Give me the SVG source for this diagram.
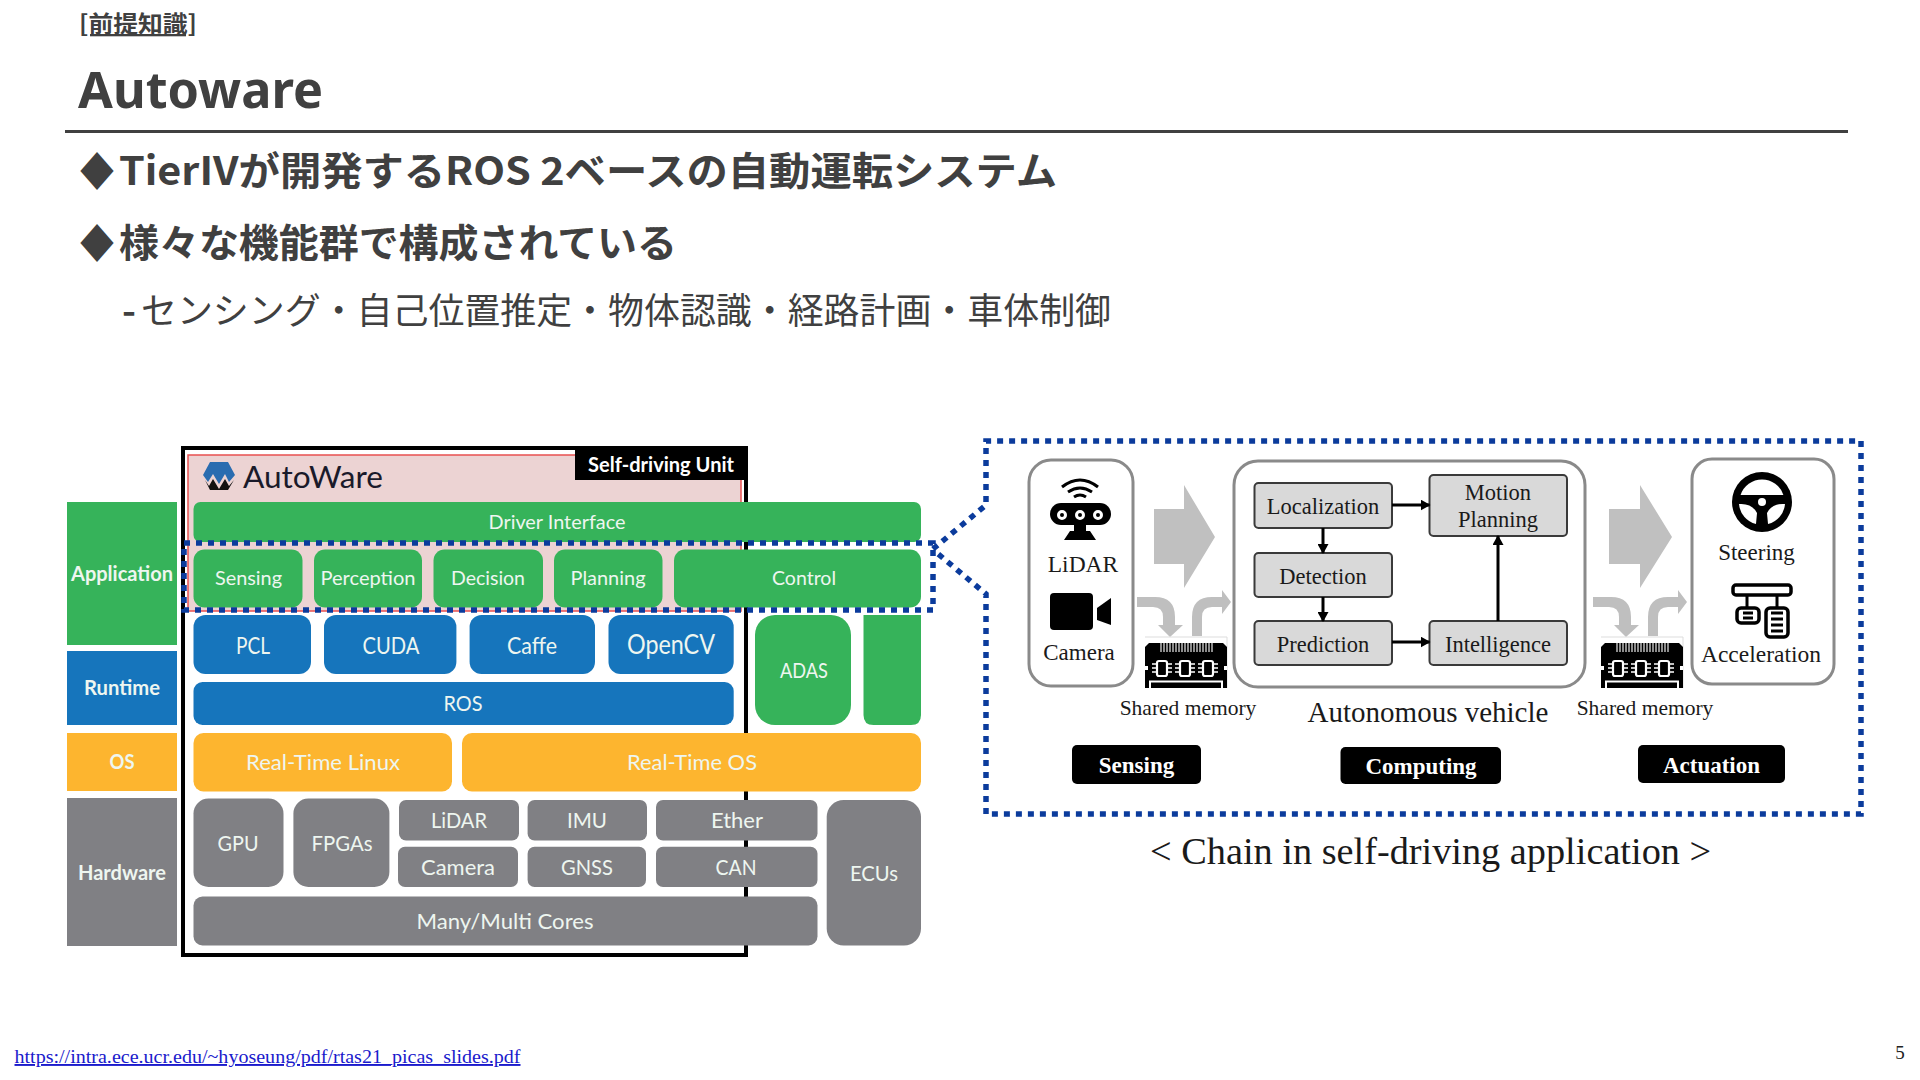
<svg xmlns="http://www.w3.org/2000/svg" width="1920" height="1080" viewBox="0 0 1920 1080">
<style>
.head{font-family:"Noto Sans","Noto Sans CJK JP",sans-serif;fill:#404040}
.jp{font-family:"Noto Sans CJK JP","Noto Sans",sans-serif;fill:#404040}
.b{font-weight:700}
.gr{fill:#36b35a}.bl{fill:#1675bc}.or{fill:#fdb52f}.gy{fill:#808084}
.t{font-family:Lato,"Noto Sans",sans-serif;fill:#eef6f0;text-anchor:middle}
.t:not([font-size]){font-size:22px}
.s{font-family:"Liberation Serif",serif;fill:#1a1a1a;text-anchor:middle}
.s:not([font-size]){font-size:22.5px}
.w{font-family:"Liberation Serif",serif;font-size:23px;font-weight:700;fill:#fff;text-anchor:middle}
.box{fill:#fff;stroke:#8a8a8a;stroke-width:3}
.fn{fill:#d9d9d9;stroke:#3a3a3a;stroke-width:2}
.dot{fill:none;stroke:#0b3b9c;stroke-width:5.5;stroke-dasharray:6 6}
.ar{fill:none;stroke:#000;stroke-width:3;marker-end:url(#ah)}
.big{fill:#c0c0c0}
</style>
<defs>
<marker id="ah" markerUnits="userSpaceOnUse" markerWidth="10" markerHeight="11" refX="9" refY="5.500" orient="auto"><path d="M0 0L10 5.500L0 11z" fill="#000"/></marker>
<g id="chip">
<path d="M0 -6H82M82 -6V45" stroke="#ddd" stroke-width="1" fill="none"/>
<path d="M4 0H78L82 4V45H0V4z" fill="#000"/>
<path d="M16 0V9M19 0V9M22 0V9M25 0V9M28 0V9M31 0V9M34 0V9M37 0V9M40 0V9M43 0V9M46 0V9M49 0V9M52 0V9M55 0V9M58 0V9M61 0V9M64 0V9M67 0V9" stroke="#fff" stroke-width="1.1"/>
<g fill="#000" stroke="#fff" stroke-width="2.2"><rect x="12" y="18" width="10" height="15" rx="2"/><rect x="35" y="18" width="10" height="15" rx="2"/><rect x="58" y="18" width="10" height="15" rx="2"/></g>
<path d="M7 21H12M7 25H12M7 29H12M22 21H27M22 25H27M22 29H27M30 21H35M30 25H35M30 29H35M45 21H50M45 25H50M45 29H50M53 21H58M53 25H58M53 29H58M68 21H73M68 25H73M68 29H73" stroke="#fff" stroke-width="1.4"/>
<path d="M0 25H3M79 25H82" stroke="#fff" stroke-width="4"/>
<path d="M5 45V38.5H77V45" stroke="#fff" stroke-width="2" fill="none"/>
</g>
<path id="cdown" d="M0 0H18Q38 0 38 20V28H46L33 40L21 28H26V20Q26 10 16 10H0z" fill="#bfbfbf"/>
<path id="cup" d="M0 39V20Q0 0 20 0H30V-7L39 5L30 17V10H20Q10 10 10 20V39z" fill="#bfbfbf"/>
</defs>
<rect width="1920" height="1080" fill="#fff"/>

<g id="header">
<text class="jp b" x="79" y="32" font-size="23" text-decoration="underline" textLength="118" lengthAdjust="spacingAndGlyphs">[前提知識]</text>
<text class="head b" x="78" y="108" font-size="50" textLength="245" lengthAdjust="spacingAndGlyphs">Autoware</text>
<rect x="65" y="130" width="1783" height="3" fill="#404040"/>
<text class="jp b" x="80" y="185" font-size="39" textLength="34" lengthAdjust="spacingAndGlyphs">◆</text>
<text class="jp b" x="119" y="185" font-size="39" textLength="938" lengthAdjust="spacingAndGlyphs">TierIVが開発するROS 2ベースの自動運転システム</text>
<text class="jp b" x="80" y="257" font-size="39" textLength="34" lengthAdjust="spacingAndGlyphs">◆</text>
<text class="jp b" x="119" y="257" font-size="39" textLength="558" lengthAdjust="spacingAndGlyphs">様々な機能群で構成されている</text>
<text class="jp b" x="122" y="324" font-size="36" textLength="14" lengthAdjust="spacingAndGlyphs">-</text>
<text class="jp" x="141" y="324" font-size="36" textLength="970" lengthAdjust="spacingAndGlyphs">センシング・自己位置推定・物体認識・経路計画・車体制御</text>
</g>

<g id="stack-frame">
<rect x="183" y="448" width="563" height="507" fill="#fff" stroke="#000" stroke-width="4"/>
<rect x="188" y="455" width="553" height="156" fill="#ecd3d3" stroke="#e85050" stroke-width="1.5"/>
<rect x="575" y="450" width="172" height="30" fill="#000"/>
<text class="t b" x="661" y="472" font-size="20" textLength="146" lengthAdjust="spacingAndGlyphs" style="fill:#fff">Self-driving Unit</text>
</g>
<g id="autoware-logo">
<path d="M210 462H228L235 475L229 482L225 474L219 484L213 474L208 482L203 475z" fill="#2a6cb0"/>
<path d="M205 480L210 490H228L234 480L229 486L225 479L219 489L213 479L209 486z" fill="#111"/>
<text x="243" y="488" font-family="Lato,sans-serif" font-size="30" fill="#1a1a2a" textLength="140" lengthAdjust="spacingAndGlyphs">AutoWare</text>
</g>

<g id="layer-application"><rect class="gr" x="67" y="502" width="110" height="143"/><text class="t b" x="122" y="581" font-size="21" textLength="102" lengthAdjust="spacingAndGlyphs">Application</text></g>
<g id="layer-runtime"><rect class="bl" x="67" y="651" width="110" height="74"/><text class="t b" x="122" y="695" font-size="21" textLength="76" lengthAdjust="spacingAndGlyphs">Runtime</text></g>
<g id="layer-os"><rect class="or" x="67" y="733" width="110" height="58"/><text class="t b" x="122" y="769" font-size="21" textLength="25" lengthAdjust="spacingAndGlyphs">OS</text></g>
<g id="layer-hardware"><rect class="gy" x="67" y="798" width="110" height="148"/><text class="t b" x="122" y="880" font-size="21" textLength="88" lengthAdjust="spacingAndGlyphs">Hardware</text></g>

<g id="driver-interface"><rect class="gr" x="193.5" y="502" width="727.5" height="40" rx="7"/><text class="t" x="557" y="529" font-size="20" textLength="137" lengthAdjust="spacingAndGlyphs">Driver Interface</text></g>
<g id="sensing"><rect class="gr" x="193.5" y="549.5" width="109" height="58" rx="11"/><text class="t" x="248.500" y="585" font-size="20" textLength="67" lengthAdjust="spacingAndGlyphs">Sensing</text></g>
<g id="perception"><rect class="gr" x="314" y="549.5" width="108" height="58" rx="11"/><text class="t" x="368" y="585" font-size="20" textLength="95" lengthAdjust="spacingAndGlyphs">Perception</text></g>
<g id="decision"><rect class="gr" x="433.500" y="549.5" width="109.500" height="58" rx="11"/><text class="t" x="488" y="585" font-size="20" textLength="74" lengthAdjust="spacingAndGlyphs">Decision</text></g>
<g id="planning"><rect class="gr" x="554" y="549.5" width="108.500" height="58" rx="11"/><text class="t" x="608" y="585" font-size="20" textLength="75" lengthAdjust="spacingAndGlyphs">Planning</text></g>
<g id="control"><rect class="gr" x="674" y="549.5" width="247" height="58" rx="11"/><text class="t" x="804" y="585" font-size="20" textLength="64" lengthAdjust="spacingAndGlyphs">Control</text></g>

<g id="pcl"><rect class="bl" x="193.5" y="615" width="117.500" height="59" rx="12"/><text class="t" x="253" y="654" font-size="23" textLength="34" lengthAdjust="spacingAndGlyphs">PCL</text></g>
<g id="cuda"><rect class="bl" x="324" y="615" width="132.400" height="59" rx="12"/><text class="t" x="391" y="654" font-size="23" textLength="57" lengthAdjust="spacingAndGlyphs">CUDA</text></g>
<g id="caffe"><rect class="bl" x="469.600" y="615" width="125.400" height="59" rx="12"/><text class="t" x="532" y="654" font-size="23" textLength="50" lengthAdjust="spacingAndGlyphs">Caffe</text></g>
<g id="opencv"><rect class="bl" x="608.500" y="615" width="125.200" height="59" rx="12"/><text class="t" x="671" y="654" font-size="26" textLength="88" lengthAdjust="spacingAndGlyphs">OpenCV</text></g>
<g id="ros"><rect class="bl" x="193.5" y="682" width="540.200" height="43" rx="9"/><text class="t" x="463" y="711" font-size="21" textLength="39" lengthAdjust="spacingAndGlyphs">ROS</text></g>
<g id="adas"><rect class="gr" x="755" y="615" width="96" height="110" rx="20"/><text class="t" x="804" y="678" font-size="21" textLength="48" lengthAdjust="spacingAndGlyphs">ADAS</text></g>
<g id="green-block"><path class="gr" d="M863.500 615H921V715Q921 725 911 725H873.500Q863.500 725 863.500 715z"/></g>
<g id="rt-linux"><rect class="or" x="193.5" y="733" width="258.500" height="58.500" rx="10"/><text class="t" x="323" y="770" font-size="21" textLength="154" lengthAdjust="spacingAndGlyphs">Real-Time Linux</text></g>
<g id="rt-os"><rect class="or" x="462" y="733" width="459" height="58.500" rx="10"/><text class="t" x="692" y="770" font-size="21" textLength="130" lengthAdjust="spacingAndGlyphs">Real-Time OS</text></g>
<g id="gpu"><rect class="gy" x="193.5" y="798.500" width="90" height="88.500" rx="15"/><text class="t" x="238" y="851" font-size="21" textLength="41" lengthAdjust="spacingAndGlyphs">GPU</text></g>
<g id="fpgas"><rect class="gy" x="293.400" y="798.500" width="96" height="88.500" rx="15"/><text class="t" x="342" y="851" font-size="21" textLength="61" lengthAdjust="spacingAndGlyphs">FPGAs</text></g>
<g id="lidar-hw"><rect class="gy" x="399" y="800" width="120" height="40.500" rx="7"/><text class="t" x="459" y="828" font-size="21" textLength="56" lengthAdjust="spacingAndGlyphs">LiDAR</text></g>
<g id="imu"><rect class="gy" x="527.600" y="800" width="119.400" height="40.500" rx="7"/><text class="t" x="587" y="828" font-size="21" textLength="40" lengthAdjust="spacingAndGlyphs">IMU</text></g>
<g id="ether"><rect class="gy" x="656" y="800" width="161.500" height="40.500" rx="7"/><text class="t" x="737" y="828" font-size="21" textLength="52" lengthAdjust="spacingAndGlyphs">Ether</text></g>
<g id="camera-hw"><rect class="gy" x="398" y="846.700" width="120" height="40.300" rx="7"/><text class="t" x="458" y="875" font-size="21" textLength="74" lengthAdjust="spacingAndGlyphs">Camera</text></g>
<g id="gnss"><rect class="gy" x="527.600" y="846.700" width="118.400" height="40.300" rx="7"/><text class="t" x="587" y="875" font-size="21" textLength="52" lengthAdjust="spacingAndGlyphs">GNSS</text></g>
<g id="can"><rect class="gy" x="656" y="846.700" width="161.500" height="40.300" rx="7"/><text class="t" x="736" y="875" font-size="21" textLength="41" lengthAdjust="spacingAndGlyphs">CAN</text></g>
<g id="cores"><rect class="gy" x="193.5" y="896.500" width="624" height="49" rx="9"/><text class="t" x="505" y="929" font-size="21" textLength="177" lengthAdjust="spacingAndGlyphs">Many/Multi Cores</text></g>
<g id="ecus"><rect class="gy" x="826.700" y="800" width="94.300" height="145.500" rx="17"/><text class="t" x="874" y="881" font-size="21" textLength="48" lengthAdjust="spacingAndGlyphs">ECUs</text></g>

<g id="callout">
<rect class="dot" x="184" y="543" width="749" height="67"/>
<path class="dot" d="M933 549L986 505V441H1861V814H986V594L937 553"/>
</g>

<g id="sensing-box">
<rect class="box" x="1029" y="460" width="104" height="226" rx="22"/>
<path d="M1062 487Q1080 473 1098 487M1068 492Q1080 484 1092 492M1074 497Q1080 493 1086 497" fill="none" stroke="#000" stroke-width="3"/>
<rect x="1050" y="503" width="61" height="22" rx="11" fill="#000"/>
<g fill="#000" stroke="#fff" stroke-width="3"><circle cx="1062" cy="515" r="3.500"/><circle cx="1080" cy="515" r="3.500"/><circle cx="1098" cy="515" r="3.500"/></g>
<path d="M1074 525H1086V531H1090L1096 540H1064L1070 531H1074z" fill="#000"/>
<text class="s" x="1083" y="572" font-size="23.5">LiDAR</text>
<rect x="1050" y="593" width="43" height="37" rx="4" fill="#000"/>
<path d="M1097 608L1111 598V625L1097 620z" fill="#000"/>
<text class="s" x="1079" y="660" font-size="23">Camera</text>
</g>

<g id="shared-memory-1">
<path class="big" d="M1154 509H1184V485L1215 537L1184 588V564H1154z"/>
<use href="#cdown" x="1137" y="597"/>
<use href="#cup" x="1192" y="597"/>
<use href="#chip" x="1145" y="643"/>
<text class="s" x="1188" y="715" font-size="21.5">Shared memory</text>
</g>

<g id="computing-box"><rect class="box" x="1234" y="461" width="351" height="226" rx="24"/></g>
<g id="localization"><rect class="fn" x="1254.500" y="483" width="137.500" height="45" rx="4"/><text class="s" x="1323" y="514">Localization</text></g>
<g id="motion-planning"><rect class="fn" x="1429.500" y="475" width="137.500" height="61" rx="4"/><text class="s" x="1498" y="500">Motion</text><text class="s" x="1498" y="527">Planning</text></g>
<g id="detection"><rect class="fn" x="1254.500" y="553" width="137.500" height="44" rx="4"/><text class="s" x="1323" y="584">Detection</text></g>
<g id="prediction"><rect class="fn" x="1254.500" y="621" width="137.500" height="44" rx="4"/><text class="s" x="1323" y="652">Prediction</text></g>
<g id="intelligence"><rect class="fn" x="1429.500" y="621" width="137.500" height="44" rx="4"/><text class="s" x="1498" y="652">Intelligence</text></g>
<text class="s" x="1428" y="722" font-size="29">Autonomous vehicle</text>

<g id="connectors">
<path class="ar" d="M1392 505H1429.500"/>
<path class="ar" d="M1323 528V553"/>
<path class="ar" d="M1323 597V621"/>
<path class="ar" d="M1392 642H1429.500"/>
<path class="ar" d="M1498 621V536"/>
</g>

<g id="shared-memory-2">
<path class="big" d="M1609 509H1640V485L1672 537L1640 588V564H1609z"/>
<use href="#cdown" x="1593" y="597"/>
<use href="#cup" x="1648" y="597"/>
<use href="#chip" x="1601" y="643"/>
<text class="s" x="1645" y="715" font-size="21.5">Shared memory</text>
</g>

<g id="actuation-box">
<rect class="box" x="1692" y="459" width="142" height="225" rx="20"/>
<circle cx="1762" cy="502" r="30" fill="#000"/>
<path d="M1740.600 495A22.500 22.500 0 0 1 1783.400 495z" fill="#fff"/>
<path d="M1739 504Q1752 503 1757 513L1756 524A22.500 22.500 0 0 1 1739 504z" fill="#fff"/>
<path d="M1785 504Q1772 503 1767 513L1768 524A22.500 22.500 0 0 0 1785 504z" fill="#fff"/>
<circle cx="1762" cy="502" r="4" fill="#fff"/>
<text class="s" x="1756.500" y="560" font-size="23">Steering</text>
<rect x="1733" y="585" width="58" height="10" rx="3" fill="#fff" stroke="#000" stroke-width="3.500"/>
<path d="M1747 596V607M1777 596V607" stroke="#000" stroke-width="3"/>
<rect x="1737" y="608" width="22" height="15" rx="4" fill="#fff" stroke="#000" stroke-width="3.500"/>
<rect x="1766" y="608" width="22" height="29" rx="4" fill="#fff" stroke="#000" stroke-width="3.500"/>
<path d="M1743 613H1753M1743 618H1753M1771 613H1783M1771 619H1783M1771 625H1783M1771 631H1783" stroke="#000" stroke-width="3"/>
<text class="s" x="1761" y="662" font-size="23.5">Acceleration</text>
</g>

<g id="tag-sensing"><rect x="1072" y="745" width="129" height="39" rx="5" fill="#000"/><text class="w" x="1136.500" y="773">Sensing</text></g>
<g id="tag-computing"><rect x="1340.500" y="747" width="160.500" height="37" rx="5" fill="#000"/><text class="w" x="1421" y="774">Computing</text></g>
<g id="tag-actuation"><rect x="1638" y="745" width="147" height="38" rx="5" fill="#000"/><text class="w" x="1711.500" y="773">Actuation</text></g>

<text id="caption" x="1430.600" y="864" font-family="Liberation Serif,serif" font-size="37" fill="#1a1a1a" text-anchor="middle" textLength="561" lengthAdjust="spacingAndGlyphs">&lt; Chain in self-driving application &gt;</text>

<g id="footer">
<text x="14.500" y="1063" font-family="Liberation Serif,serif" font-size="19" fill="#1a1acc" text-decoration="underline" textLength="506" lengthAdjust="spacingAndGlyphs">https://intra.ece.ucr.edu/~hyoseung/pdf/rtas21_picas_slides.pdf</text>
<text x="1900" y="1059" font-family="Liberation Serif,serif" font-size="19" fill="#222" text-anchor="middle">5</text>
</g>
</svg>
